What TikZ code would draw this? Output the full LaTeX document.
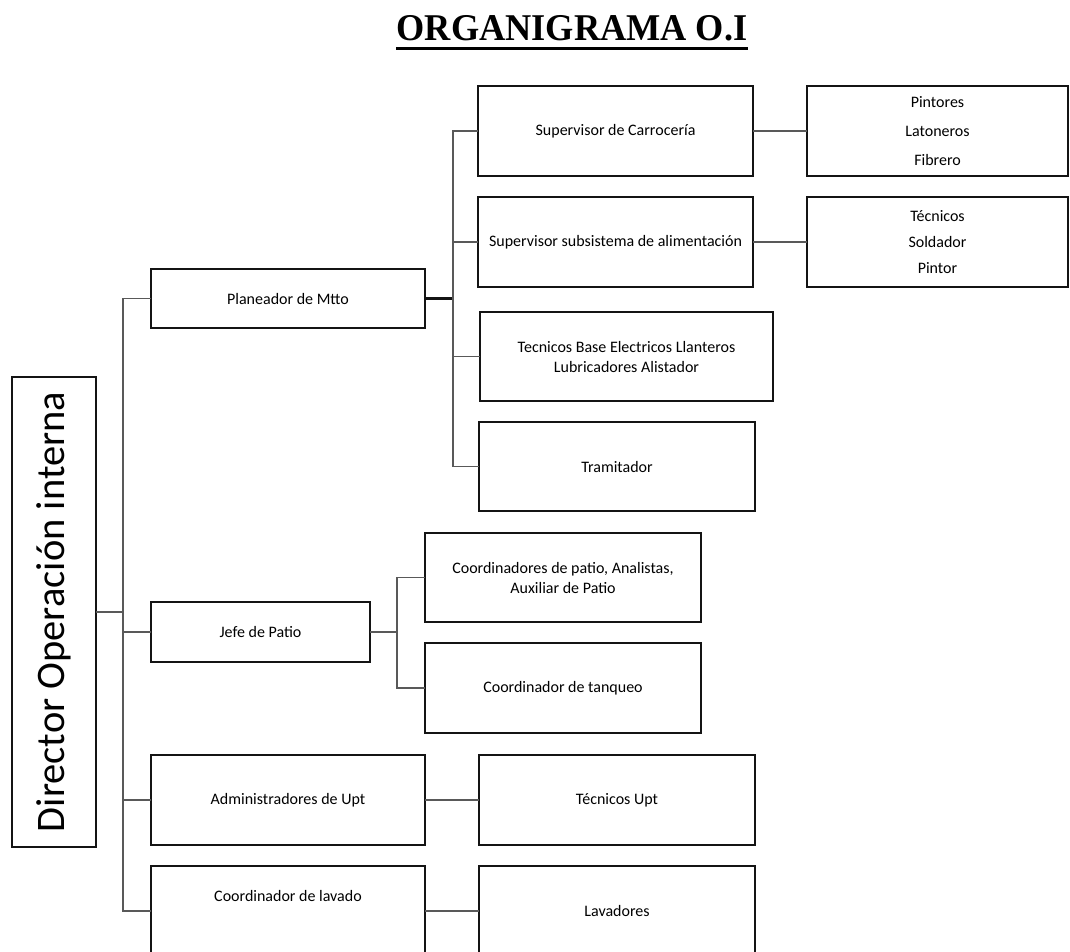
\documentclass[tikz,border=0pt]{standalone}
\usepackage{fontspec}
\setmainfont{Carlito}
\newfontfamily\titlefont{Liberation Serif}
\usetikzlibrary{calc}

\tikzset{
  unit/.style={draw=black!92, line width=2.7pt, inner sep=0pt, outer sep=0pt,
    align=center, font=\fontsize{16}{20}\selectfont},
  conn/.style={draw=black!65, line width=1.5pt},
  thickconn/.style={draw=black!92, line width=2.6pt},
}

\begin{document}
\begin{tikzpicture}[x=1pt, y=-1pt]
  \path[use as bounding box, fill=white] (0,0) rectangle (1070,951);
  \clip (0,0) rectangle (1070,951);

  % title
  \node[inner sep=0pt, anchor=base] (title) at (572,40)
    {\titlefont\bfseries\fontsize{37.8}{40}\selectfont\scalebox{0.96}[1]{ORGANIGRAMA O.I}};
  \draw[line width=3pt] ($(title.base west)+(0,8)$) -- ($(title.base east)+(0,8)$);

  % director
  \node[unit, minimum width=84pt, minimum height=470pt] (dir) at (54,612)
    {\rotatebox{90}{\fontsize{40.5}{41}\selectfont Director Operación interna}};

  % first level
  \node[unit, minimum width=274pt, minimum height=59pt] (plan) at (288,298.5) {Planeador de Mtto};
  \node[unit, minimum width=219pt, minimum height=60pt] (jefe) at (260.5,632) {Jefe de Patio};
  \node[unit, minimum width=274pt, minimum height=90pt] (adm) at (288,800) {Administradores de Upt};
  \node[unit, minimum width=274pt, minimum height=90pt,
        label={[anchor=center, yshift=-30pt, font=\fontsize{16}{20}\selectfont]north:Coordinador de lavado}]
        (lav) at (288,911) {};

  % maintenance branch
  \node[unit, minimum width=275pt, minimum height=90pt] (carr) at (615.5,131) {Supervisor de Carrocería};
  \node[unit, minimum width=275pt, minimum height=90pt] (alim) at (615.5,242) {Supervisor subsistema de alimentación};
  \node[unit, minimum width=293pt, minimum height=89pt] (base) at (626.5,356.5)
    {Tecnicos Base Electricos Llanteros\\Lubricadores Alistador};
  \node[unit, minimum width=276pt, minimum height=89pt] (tram) at (617,466.5) {Tramitador};
  \node[unit, minimum width=261pt, minimum height=90pt, font=\fontsize{16}{29}\selectfont] (pint) at (937.5,131)
    {Pintores\\Latoneros\\Fibrero};
  \node[unit, minimum width=261pt, minimum height=90pt, font=\fontsize{16}{26}\selectfont] (tecn) at (937.5,242)
    {Técnicos\\Soldador\\Pintor};

  % yard branch
  \node[unit, minimum width=276pt, minimum height=89pt] (coorp) at (563,577.5)
    {Coordinadores de patio, Analistas,\\Auxiliar de Patio};
  \node[unit, minimum width=276pt, minimum height=90pt] (tanq) at (563,688) {Coordinador de tanqueo};

  % third column
  \node[unit, minimum width=276pt, minimum height=90pt] (tupt) at (617,800) {Técnicos Upt};
  \node[unit, minimum width=276pt, minimum height=90pt] (lavs) at (617,911) {Lavadores};

  % spines
  \coordinate (s1) at (123,0);
  \coordinate (s2) at (453,0);
  \coordinate (s3) at (397,0);

  % director to first level
  \draw[conn] (dir.east) -- (dir.east -| s1);
  \draw[conn] (plan.west) -- (plan.west -| s1) -- (lav.west -| s1) -- (lav.west);
  \draw[conn] (jefe.west) -- (jefe.west -| s1);
  \draw[conn] (adm.west) -- (adm.west -| s1);

  % maintenance connectors
  \draw[thickconn] (plan.east) -- (plan.east -| s2);
  \draw[conn] (carr.west) -- (carr.west -| s2) -- (tram.west -| s2) -- (tram.west);
  \draw[conn] (alim.west) -- (alim.west -| s2);
  \draw[conn] (base.west) -- (base.west -| s2);
  \draw[conn] (carr.east) -- (pint.west);
  \draw[conn] (alim.east) -- (tecn.west);

  % yard connectors
  \draw[conn] (jefe.east) -- (jefe.east -| s3);
  \draw[conn] (coorp.west) -- (coorp.west -| s3) -- (tanq.west -| s3) -- (tanq.west);

  % remaining pairs
  \draw[conn] (adm.east) -- (tupt.west);
  \draw[conn] (lav.east) -- (lavs.west);
\end{tikzpicture}
\end{document}
